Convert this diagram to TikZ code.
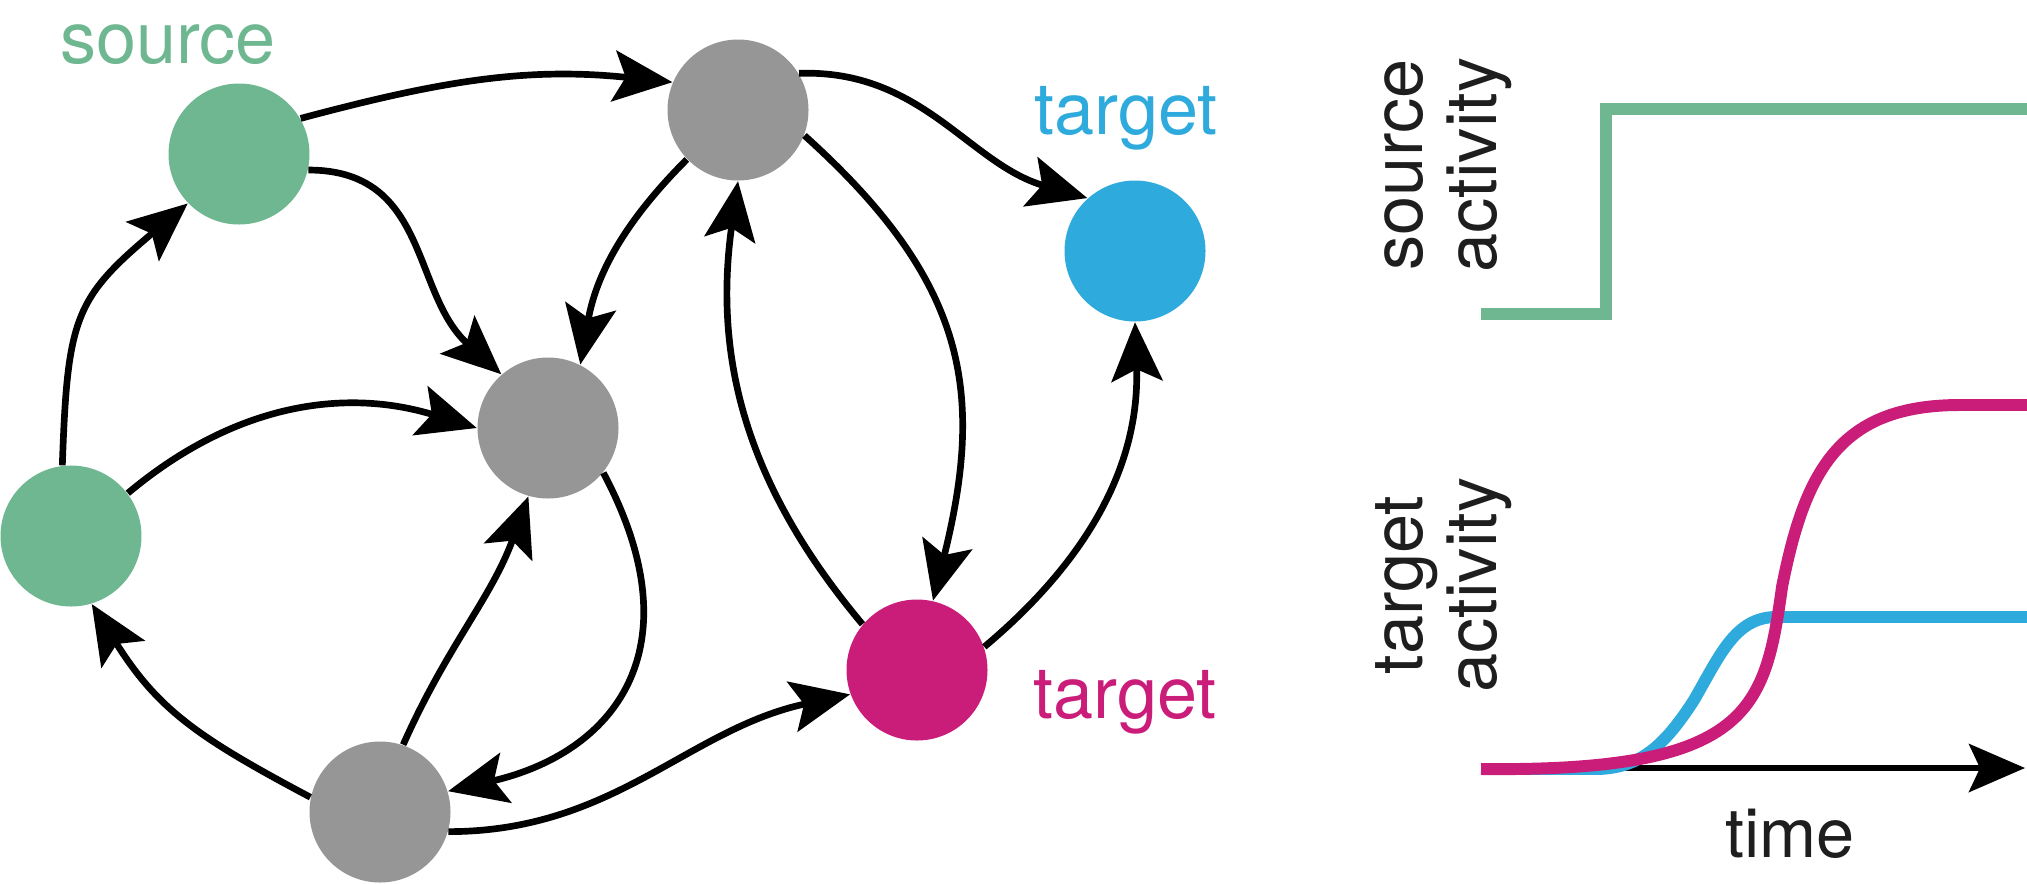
\documentclass[tikz,border=0pt]{standalone}
\usepackage{fontspec}
\setmainfont{TeX Gyre Heros}
\usetikzlibrary{arrows.meta}

\definecolor{srcgreen}{RGB}{110,183,145}
\definecolor{tgtblue}{RGB}{46,170,220}
\definecolor{tgtpink}{RGB}{202,29,122}
\definecolor{cellgray}{RGB}{150,150,150}
\definecolor{inkgray}{RGB}{30,30,30}

\tikzset{
  cell/.style={circle, minimum size=1.41cm, inner sep=0pt},
  link/.style={line width=1.9pt, -{Stealth[length=5.9mm, width=5.1mm, inset=1.2mm]}},
  lab/.style={font=\fontsize{20.5}{24}\selectfont, inner sep=0pt, anchor=base},
  axlab/.style={font=\fontsize{20}{21.3}\selectfont, inner sep=0pt, rotate=90,
    anchor=south, align=center, text=inkgray},
  trace/.style={line width=3.4pt},
}

\begin{document}
\begin{tikzpicture}
\useasboundingbox (0,0) rectangle (20.27,-8.83);

\node[cell, fill=srcgreen] (s1) at (2.39,-1.54) {};
\node[cell, fill=srcgreen] (s2) at (0.71,-5.36) {};
\node[cell, fill=cellgray] (g1) at (7.38,-1.10) {};
\node[cell, fill=cellgray] (g2) at (5.48,-4.28) {};
\node[cell, fill=cellgray] (g3) at (3.80,-8.12) {};
\node[cell, fill=tgtblue] (t1) at (11.35,-2.51) {};
\node[cell, fill=tgtpink] (t2) at (9.17,-6.70) {};

\node[lab, text=srcgreen] (srclab) at (1.68,-0.63) {source};
\node[lab, text=tgtblue] (tgtlab) at (11.26,-1.34) {target};
\node[lab, text=tgtpink] (pinklab) at (11.25,-7.18) {target};

\begin{scope}[link]
  \draw (s1.30) to[out=15, in=174] (g1.157);
  \draw (s1.-13) to[out=0, in=138, looseness=1.1] (g2.131);
  \draw (s2.97) to[out=88, in=220, looseness=1.3] (s1.224);
  \draw (s2.37) to[out=40, in=163] (g2.180);
  \draw (g3.168) to[out=152, in=-58, looseness=1.1] (s2.-73);
  \draw (g3.71) to[out=66, in=250] (g2.254);
  \draw (g2.-39) to[out=-62, in=13, out looseness=1.45, in looseness=1.23] (g3.17);
  \draw (g1.224) to[out=225, in=80] (g2.63);
  \draw (g1.31) to[out=2, in=164] (t1.132);
  \draw (g1.-21) to[out=-42, in=76, looseness=1.15] (t2.77);
  \draw (t2.140) to[out=130, in=262] (g1.270);
  \draw (t2.19) to[out=40, in=272] (t1.270);
  \draw (g3.-16) to[out=0, in=192] (t2.200);
\end{scope}

\node[axlab] (srcact) at (15.13,-1.65) {source\\activity};
\node[axlab] (tgtact) at (15.13,-5.85) {target\\activity};
\node[lab, font=\fontsize{19.5}{24}\selectfont, text=inkgray] (timelab) at (17.90,-8.57) {time};

\coordinate (origin) at (14.81,-7.68);
\coordinate (tend) at (20.25,-7.68);
\draw[line width=1.8pt, -{Stealth[length=5.6mm, width=4.8mm, inset=1.1mm]}] (origin) -- (tend);

\draw[trace, srcgreen] (14.81,-3.14) -- (16.06,-3.14) -- (16.06,-1.09) -- (20.27,-1.09);
\draw[trace, tgtblue] (14.81,-7.69) -- (15.95,-7.69) .. controls (16.40,-7.69) and (16.65,-7.45) .. (16.94,-7.00)
  .. controls (17.20,-6.55) and (17.35,-6.18) .. (17.75,-6.17) -- (20.27,-6.17);
\draw[trace, tgtpink] (14.81,-7.69) .. controls (17.50,-7.72) and (17.65,-7.10) .. (17.82,-5.87)
  .. controls (18.05,-4.70) and (18.40,-4.05) .. (19.60,-4.05) -- (20.27,-4.05);
\end{tikzpicture}
\end{document}
